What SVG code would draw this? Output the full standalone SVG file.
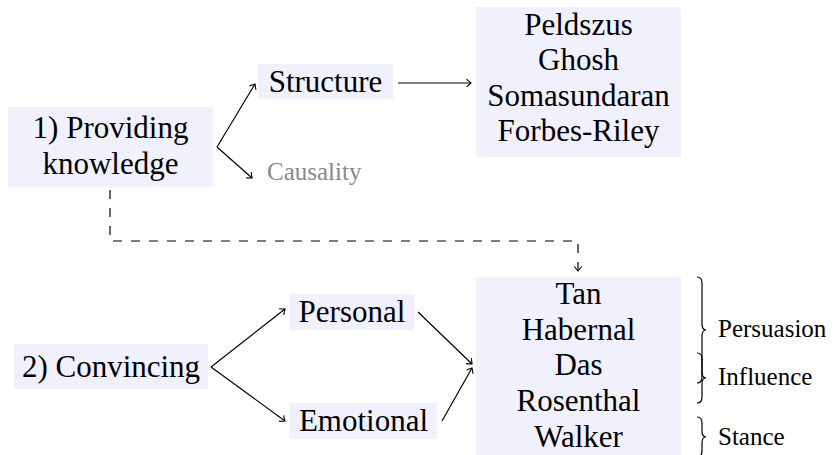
<svg xmlns="http://www.w3.org/2000/svg" width="834" height="455" viewBox="0 0 834 455" font-family="Liberation Serif, DejaVu Serif, serif">
<style>
.box{fill:#f1f1fe;stroke:none}
.t{font-size:31px;fill:#000;text-anchor:middle}
.s{font-size:25px;fill:#000}
.g{fill:#888}
.c{fill:none;stroke:#000;stroke-width:1.2}
.d{stroke-dasharray:9 9}
</style>
<defs>
<marker id="to" markerUnits="userSpaceOnUse" markerWidth="12" markerHeight="12" viewBox="-6 -6 12 12" refX="0" refY="0" orient="auto">
<path d="M-4.5,-3.8 Q-1.2,-1 0,0 Q-1.2,1 -4.5,3.8" fill="none" stroke="#000" stroke-width="1.1"/>
</marker>
</defs>
<g id="connectors">
<path class="c" d="M217,147 L255,84" marker-end="url(#to)"/>
<path class="c" d="M217,147 L252,178" marker-end="url(#to)"/>
<path class="c" d="M398,83 L471,83" marker-end="url(#to)"/>
<path class="c d" d="M110,190 L110,241 L578,241 L578,271" marker-end="url(#to)"/>
<path class="c" d="M211,367 L285,309" marker-end="url(#to)"/>
<path class="c" d="M211,367 L285,421" marker-end="url(#to)"/>
<path class="c" d="M418,312 L472,364" marker-end="url(#to)"/>
<path class="c" d="M442,421 L472,368" marker-end="url(#to)"/>
</g>
<g id="n-providing">
<rect class="box" x="8" y="107" width="205" height="80"/>
<text class="t" x="110.5" y="138" font-family="Liberation Serif, serif">1) Providing</text>
<text class="t" x="110.5" y="174" font-family="Liberation Serif, serif">knowledge</text>
</g>
<g id="n-structure">
<rect class="box" x="258" y="64" width="135" height="35"/>
<text class="t" x="325.5" y="92">Structure</text>
</g>
<g id="n-causality">
<text class="s g" x="267" y="180">Causality</text>
</g>
<g id="n-knowledge-refs">
<rect class="box" x="476" y="7" width="205" height="150"/>
<text class="t" x="578.5" y="35">Peldszus</text>
<text class="t" x="578.5" y="70">Ghosh</text>
<text class="t" x="578.5" y="106">Somasundaran</text>
<text class="t" x="578.5" y="141">Forbes-Riley</text>
</g>
<g id="n-convincing">
<rect class="box" x="14" y="344" width="194" height="45"/>
<text class="t" x="111" y="377">2) Convincing</text>
</g>
<g id="n-personal">
<rect class="box" x="290" y="294" width="124" height="36"/>
<text class="t" x="352" y="322">Personal</text>
</g>
<g id="n-emotional">
<rect class="box" x="290" y="403" width="147" height="36"/>
<text class="t" x="363.5" y="431">Emotional</text>
</g>
<g id="n-convincing-refs">
<rect class="box" x="476" y="277" width="205" height="180"/>
<text class="t" x="578.5" y="304">Tan</text>
<text class="t" x="578.5" y="340">Habernal</text>
<text class="t" x="578.5" y="375">Das</text>
<text class="t" x="578.5" y="411">Rosenthal</text>
<text class="t" x="578.5" y="447">Walker</text>
</g>
<g id="braces">
<path class="c" d="M697,277 Q702,277 702,283 L702,324 Q702,330 706,330 Q702,330 702,336 L702,377 Q702,383 697,383"/>
<path class="c" d="M697,353 Q702,353 702,359 L702,372 Q702,378 706,378 Q702,378 702,384 L702,397 Q702,403 697,403"/>
<path class="c" d="M697,417 Q702,417 702,423 L702,431 Q702,437 706,437 Q702,437 702,443 L702,451 Q702,457 697,457"/>
<text class="s" x="718" y="337">Persuasion</text>
<text class="s" x="718" y="385">Influence</text>
<text class="s" x="718" y="445">Stance</text>
</g>
</svg>
